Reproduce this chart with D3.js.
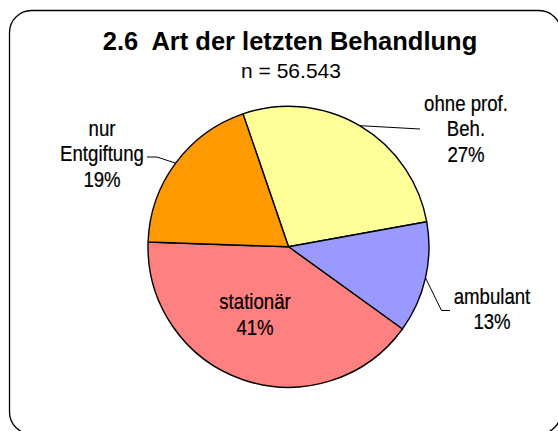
<!DOCTYPE html>
<html>
<head>
<meta charset="utf-8">
<script src="https://cdn.jsdelivr.net/npm/d3@7"></script>
<style>
  body { margin: 0; background: #fff; }
  svg { display: block; }
  text { white-space: pre; }
</style>
</head>
<body>
<div id="chart"></div>
<script>
// data
const categories = ["ohne prof.|Beh.", "ambulant", "stationär", "nur|Entgiftung"];
const values = [27.4, 12.8, 40.6, 19.2];
const colors = ["#FFFF99", "#9999FF", "#FF8080", "#FF9900"];
const title = "2.6  Art der letzten Behandlung";
const subtitle = "n = 56.543";

// layout of labels (center x, first baseline, leader elbow / end points)
const labelLayout = [
  { x: 466, y: 111, leader: [[420, 129]] },
  { x: 492, y: 304, leader: [[441.5, 310.5], [450, 310.5]] },
  { x: 255, y: 309.5, leader: null },
  { x: 102, y: 136, leader: [[157, 157], [147, 157]] }
];

const width = 558, height = 431;
const cx = 288.5, cy = 246.8, radius = 140.5;
const startDeg = -18.9;
const baseFont = "'Liberation Sans', Arial, sans-serif";
const narrow = 0.81; // Arial Narrow look
const lineH = 25.5;

const svg = d3.select("#chart").append("svg")
  .attr("width", width)
  .attr("height", height);

// frame
svg.append("rect")
  .attr("x", 9.5).attr("y", 10.5)
  .attr("width", 551.5).attr("height", 423.5)
  .attr("rx", 22).attr("ry", 22)
  .attr("fill", "#fff")
  .attr("stroke", "#000")
  .attr("stroke-width", 1.3);

svg.append("text")
  .attr("x", 290).attr("y", 50)
  .attr("text-anchor", "middle")
  .attr("font-family", baseFont)
  .attr("font-weight", "bold")
  .attr("font-size", "25.5px")
  .text(title);

svg.append("text")
  .attr("x", 291).attr("y", 78)
  .attr("text-anchor", "middle")
  .attr("font-family", baseFont)
  .attr("font-size", "21px")
  .text(subtitle);

const start = startDeg * Math.PI / 180;
const pie = d3.pie().sort(null).value(d => d)
  .startAngle(start).endAngle(start + 2 * Math.PI);
const arcs = pie(values);
const arc = d3.arc().innerRadius(0).outerRadius(radius);

const g = svg.append("g").attr("transform", `translate(${cx},${cy})`);

g.selectAll("path")
  .data(arcs)
  .enter()
  .append("path")
  .attr("d", arc)
  .attr("fill", (d, i) => colors[i])
  .attr("stroke", "#000")
  .attr("stroke-width", 1.4)
  .attr("stroke-linejoin", "round");

// leader lines
arcs.forEach((d, i) => {
  let lay = labelLayout[i];
  if (!lay.leader) return;
  let mid = (d.startAngle + d.endAngle) / 2;
  let p0 = [cx + radius * Math.sin(mid), cy - radius * Math.cos(mid)];
  let pts = [p0].concat(lay.leader);
  svg.append("path")
    .attr("d", d3.line()(pts))
    .attr("fill", "none")
    .attr("stroke", "#000")
    .attr("stroke-width", 1);
});

// labels
arcs.forEach((d, i) => {
  let lay = labelLayout[i];
  let lines = categories[i].split("|");
  lines.push(Math.round(values[i]) + "%");
  let t = svg.append("text")
    .attr("transform", `translate(${lay.x},0) scale(${narrow},1)`)
    .attr("text-anchor", "middle")
    .attr("font-family", baseFont)
    .attr("font-size", "23px")
    .attr("stroke", "#000")
    .attr("stroke-width", 0.25)
    .attr("fill", "#000");
  lines.forEach((s, k) => {
    t.append("tspan")
      .attr("x", 0)
      .attr("y", lay.y + k * lineH)
      .text(s);
  });
});
</script>
</body>
</html>
